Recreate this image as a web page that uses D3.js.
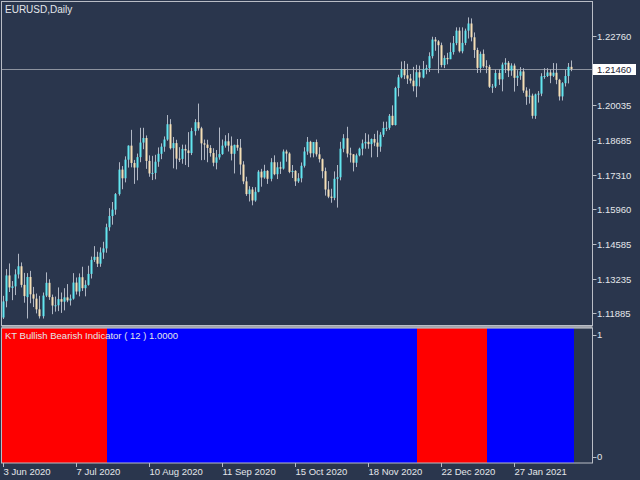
<!DOCTYPE html>
<html>
<head>
<meta charset="utf-8">
<script src="https://cdn.jsdelivr.net/npm/d3@7"></script>
<style>
  html, body { margin: 0; padding: 0; background: #2a364d; }
  svg { display: block; }
  text { font-family: "Liberation Sans", Arial, sans-serif; fill: #e4e6ea; }
</style>
</head>
<body>
<div id="chart"></div>
<script>
// EURUSD daily bars, 3 Jun 2020 .. 23 Feb 2021 (188 bars)
const opens = [
  1.1172,1.1236,1.1337,1.1288,1.1294,1.1341,1.1373,1.1300,1.1252,1.1331,
  1.1263,1.1246,1.1204,1.1177,1.1258,1.1308,1.1252,1.1219,1.1220,1.1244,
  1.1234,1.1251,1.1239,1.1246,1.1309,1.1274,1.1330,1.1287,1.1300,1.1343,
  1.1398,1.1410,1.1383,1.1427,1.1443,1.1526,1.1570,1.1595,1.1656,1.1752,
  1.1718,1.1791,1.1846,1.1778,1.1760,1.1801,1.1858,1.1876,1.1786,1.1737,
  1.1739,1.1783,1.1814,1.1842,1.1870,1.1930,1.1836,1.1856,1.1795,1.1794,
  1.1833,1.1827,1.1817,1.1903,1.1938,1.1914,1.1855,1.1850,1.1837,1.1817,
  1.1779,1.1800,1.1813,1.1846,1.1863,1.1846,1.1814,1.1849,1.1838,1.1772,
  1.1706,1.1656,1.1674,1.1631,1.1665,1.1744,1.1721,1.1747,1.1716,1.1781,
  1.1734,1.1761,1.1756,1.1823,1.1815,1.1743,1.1747,1.1706,1.1718,1.1767,
  1.1823,1.1861,1.1816,1.1860,1.1812,1.1793,1.1746,1.1674,1.1646,1.1641,
  1.1716,1.1722,1.1834,1.1875,1.1815,1.1812,1.1779,1.1808,1.1834,1.1855,
  1.1861,1.1852,1.1872,1.1858,1.1842,1.1889,1.1915,1.1916,1.1963,1.1927,
  1.2072,1.2114,1.2146,1.2122,1.2109,1.2101,1.2079,1.2134,1.2113,1.2145,
  1.2150,1.2197,1.2262,1.2255,1.2240,1.2162,1.2190,1.2185,1.2213,1.2248,
  1.2297,1.2216,1.2249,1.2297,1.2325,1.2271,1.2221,1.2151,1.2206,1.2157,
  1.2155,1.2077,1.2078,1.2131,1.2106,1.2164,1.2171,1.2140,1.2160,1.2112,
  1.2120,1.2137,1.2062,1.2038,1.2042,1.1963,1.2047,1.2050,1.2118,1.2119,
  1.2133,1.2120,1.2132,1.2104,1.2039,1.2091,1.2119,1.2155
];
const highs = [
  1.1257,1.1362,1.1384,1.1315,1.1361,1.1422,1.1388,1.1347,1.1346,1.1355,
  1.1292,1.1266,1.1257,1.1270,1.1349,1.1322,1.1262,1.1254,1.1290,1.1270,
  1.1287,1.1303,1.1262,1.1346,1.1329,1.1345,1.1371,1.1318,1.1375,1.1411,
  1.1452,1.1430,1.1447,1.1469,1.1540,1.1601,1.1625,1.1660,1.1781,1.1766,
  1.1804,1.1847,1.1908,1.1790,1.1815,1.1916,1.1916,1.1886,1.1808,1.1806,
  1.1810,1.1839,1.1855,1.1882,1.1966,1.1950,1.1880,1.1869,1.1840,1.1850,
  1.1850,1.1899,1.1916,1.1950,1.2011,1.1920,1.1870,1.1869,1.1848,1.1836,
  1.1829,1.1917,1.1870,1.1887,1.1895,1.1882,1.1850,1.1872,1.1872,1.1785,
  1.1724,1.1687,1.1684,1.1683,1.1750,1.1755,1.1771,1.1750,1.1797,1.1808,
  1.1781,1.1783,1.1831,1.1830,1.1820,1.1770,1.1750,1.1738,1.1780,1.1840,
  1.1880,1.1865,1.1860,1.1870,1.1840,1.1796,1.1760,1.1707,1.1677,1.1745,
  1.1770,1.1861,1.1891,1.1920,1.1838,1.1813,1.1815,1.1838,1.1870,1.1895,
  1.1890,1.1874,1.1892,1.1905,1.1899,1.1940,1.1940,1.1970,1.2004,1.2077,
  1.2124,1.2176,1.2178,1.2167,1.2127,1.2155,1.2163,1.2160,1.2178,1.2163,
  1.2212,1.2273,1.2272,1.2260,1.2250,1.2200,1.2210,1.2250,1.2276,1.2310,
  1.2310,1.2310,1.2305,1.2349,1.2345,1.2290,1.2230,1.2215,1.2223,1.2181,
  1.2163,1.2088,1.2144,1.2145,1.2172,1.2189,1.2178,1.2169,1.2168,1.2142,
  1.2154,1.2150,1.2075,1.2069,1.2050,1.2050,1.2060,1.2130,1.2150,1.2150,
  1.2145,1.2170,1.2169,1.2108,1.2095,1.2144,1.2170,1.2180
];
const lows = [
  1.1166,1.1212,1.1272,1.1240,1.1260,1.1325,1.1290,1.1230,1.1168,1.1228,
  1.1213,1.1188,1.1168,1.1168,1.1252,1.1241,1.1185,1.1195,1.1197,1.1190,
  1.1200,1.1232,1.1219,1.1242,1.1262,1.1255,1.1276,1.1255,1.1297,1.1325,
  1.1390,1.1370,1.1371,1.1402,1.1426,1.1512,1.1536,1.1575,1.1650,1.1675,
  1.1702,1.1760,1.1761,1.1696,1.1710,1.1781,1.1832,1.1755,1.1724,1.1711,
  1.1714,1.1763,1.1793,1.1822,1.1865,1.1831,1.1757,1.1753,1.1782,1.1775,
  1.1770,1.1762,1.1809,1.1886,1.1905,1.1789,1.1790,1.1781,1.1803,1.1765,
  1.1753,1.1791,1.1810,1.1838,1.1823,1.1788,1.1737,1.1826,1.1732,1.1695,
  1.1649,1.1627,1.1612,1.1626,1.1663,1.1685,1.1716,1.1696,1.1706,1.1730,
  1.1715,1.1735,1.1752,1.1783,1.1738,1.1719,1.1688,1.1700,1.1702,1.1760,
  1.1810,1.1800,1.1800,1.1803,1.1780,1.1718,1.1650,1.1640,1.1622,1.1632,
  1.1603,1.1710,1.1820,1.1800,1.1780,1.1745,1.1762,1.1804,1.1808,1.1834,
  1.1834,1.1800,1.1844,1.1801,1.1822,1.1880,1.1903,1.1908,1.1925,1.1925,
  1.2039,1.2110,1.2107,1.2088,1.2090,1.2059,1.2036,1.2078,1.2110,1.2126,
  1.2135,1.2188,1.2218,1.2130,1.2153,1.2150,1.2165,1.2185,1.2203,1.2240,
  1.2211,1.2208,1.2240,1.2266,1.2255,1.2190,1.2131,1.2132,1.2151,1.2130,
  1.2072,1.2053,1.2072,1.2084,1.2059,1.2131,1.2115,1.2120,1.2058,1.2080,
  1.2104,1.2053,1.2006,1.2011,1.1952,1.1951,1.2015,1.2040,1.2108,1.2115,
  1.2091,1.2115,1.2087,1.2023,1.2023,1.2078,1.2090,1.2138
];
const closes = [
  1.1235,1.1337,1.1290,1.1294,1.1341,1.1373,1.1300,1.1256,1.1331,1.1263,
  1.1246,1.1204,1.1177,1.1258,1.1308,1.1252,1.1219,1.1220,1.1244,1.1234,
  1.1251,1.1239,1.1246,1.1309,1.1274,1.1330,1.1287,1.1300,1.1343,1.1398,
  1.1410,1.1383,1.1427,1.1443,1.1526,1.1570,1.1595,1.1656,1.1752,1.1718,
  1.1791,1.1846,1.1778,1.1760,1.1801,1.1858,1.1876,1.1786,1.1737,1.1739,
  1.1783,1.1814,1.1842,1.1870,1.1930,1.1836,1.1856,1.1795,1.1794,1.1833,
  1.1827,1.1817,1.1903,1.1938,1.1914,1.1855,1.1850,1.1837,1.1817,1.1779,
  1.1800,1.1813,1.1846,1.1863,1.1846,1.1814,1.1849,1.1838,1.1772,1.1706,
  1.1656,1.1674,1.1631,1.1665,1.1744,1.1721,1.1747,1.1716,1.1781,1.1734,
  1.1761,1.1756,1.1823,1.1815,1.1743,1.1747,1.1706,1.1718,1.1767,1.1823,
  1.1861,1.1816,1.1860,1.1812,1.1793,1.1746,1.1674,1.1646,1.1641,1.1716,
  1.1722,1.1834,1.1875,1.1815,1.1812,1.1779,1.1808,1.1834,1.1855,1.1861,
  1.1852,1.1872,1.1858,1.1842,1.1889,1.1915,1.1916,1.1963,1.1927,1.2072,
  1.2114,1.2146,1.2122,1.2109,1.2101,1.2079,1.2134,1.2113,1.2145,1.2150,
  1.2197,1.2262,1.2255,1.2240,1.2162,1.2190,1.2185,1.2213,1.2248,1.2297,
  1.2216,1.2249,1.2297,1.2325,1.2271,1.2221,1.2151,1.2206,1.2157,1.2155,
  1.2077,1.2078,1.2131,1.2106,1.2164,1.2171,1.2140,1.2160,1.2112,1.2120,
  1.2137,1.2062,1.2038,1.2042,1.1963,1.2047,1.2050,1.2118,1.2119,1.2133,
  1.2120,1.2132,1.2104,1.2039,1.2091,1.2119,1.2155,1.2146
];

// indicator state runs: [state, number of bars]  (1 = bullish/blue, 0 = bearish/red)
const trendRuns = [[0, 35], [1, 102], [0, 23], [1, 28]];

// axis labels
const priceTicks = [1.22760, 1.20035, 1.18685, 1.17310, 1.15960, 1.14585, 1.13235, 1.11885];
const currentPrice = 1.21460;
const dateTickIdx = [0, 24, 48, 72, 96, 120, 144, 168];
const dateTickLabels = ["3 Jun 2020", "7 Jul 2020", "10 Aug 2020", "11 Sep 2020",
                        "15 Oct 2020", "18 Nov 2020", "22 Dec 2020", "27 Jan 2021"];
const indTicks = [1, 0];

// layout
const W = 640, H = 480;
const left = 1.5, right = 592.5;
const mainTop = 1.5, mainBottom = 325.5;
const indTop = 328, indBottom = 463;

const bg = "#2a364d";
const frame = "#b9bdc6";
const bullBody = "#62e6f0";
const bearBody = "#f5dfb6";
const wickCol = "#b0b7c4";

const n = closes.length;
const trend = [];
trendRuns.forEach(([s, len]) => { for (let k = 0; k < len; k++) trend.push(s); });

const svg = d3.select("#chart").append("svg")
    .attr("width", W)
    .attr("height", H);

svg.append("rect").attr("width", W).attr("height", H).attr("fill", bg);

// scales
const x = d3.scaleLinear().domain([0, n - 1]).range([3, 3 + 3.04 * (n - 1)]);
const y = d3.scaleLinear().domain([1.11885, 1.22760]).range([313.3, 36]);
const yInd = d3.scaleLinear().domain([0, 1]).range([indBottom, indTop]);
const step = x(1) - x(0);

// clip for the price panel
svg.append("clipPath").attr("id", "mainClip")
  .append("rect")
    .attr("x", left + 0.5).attr("y", mainTop + 0.5)
    .attr("width", right - left - 1).attr("height", mainBottom - mainTop - 1);

const main = svg.append("g").attr("clip-path", "url(#mainClip)");

// current price line (drawn under candles)
main.append("line")
    .attr("x1", left).attr("x2", right)
    .attr("y1", Math.round(y(currentPrice)) + 0.5)
    .attr("y2", Math.round(y(currentPrice)) + 0.5)
    .attr("stroke", "#8d939f")
    .attr("stroke-width", 1);

const bars = d3.range(n);

// wicks
main.selectAll(".wick").data(bars).enter().append("line")
    .attr("class", "wick")
    .attr("x1", i => Math.round(x(i)) + 0.5)
    .attr("x2", i => Math.round(x(i)) + 0.5)
    .attr("y1", i => y(highs[i]))
    .attr("y2", i => y(lows[i]))
    .attr("stroke", wickCol)
    .attr("stroke-width", 1);

// bodies
main.selectAll(".body").data(bars).enter().append("rect")
    .attr("class", "body")
    .attr("x", i => Math.round(x(i)) - 0.5)
    .attr("width", 2)
    .attr("y", i => y(Math.max(opens[i], closes[i])))
    .attr("height", i => Math.max(1, Math.abs(y(opens[i]) - y(closes[i]))))
    .attr("fill", i => closes[i] >= opens[i] ? bullBody : bearBody);

// chart title
svg.append("text")
    .attr("x", 5).attr("y", 13)
    .attr("font-size", "10px")
    .text("EURUSD,Daily");

// indicator histogram
svg.append("g")
    .attr("shape-rendering", "crispEdges")
  .selectAll(".hist").data(bars).enter().append("rect")
    .attr("class", "hist")
    .attr("x", i => Math.floor(x(i) - step / 2))
    .attr("width", Math.ceil(step) + 1)
    .attr("y", yInd(1))
    .attr("height", yInd(0) - yInd(1))
    .attr("fill", i => trend[i] === 1 ? "#0000ff" : "#ff0000");

svg.append("text")
    .attr("x", 5).attr("y", 338.5)
    .attr("font-size", "9.5px")
    .text("KT Bullish Bearish Indicator ( 12 ) 1.0000");

// frames
svg.append("rect")
    .attr("x", left).attr("y", mainTop)
    .attr("width", right - left).attr("height", mainBottom - mainTop)
    .attr("fill", "none").attr("stroke", frame);

svg.append("rect")
    .attr("x", left).attr("y", 326).attr("width", right - left).attr("height", 2.2)
    .attr("fill", "#9ea3ab");

svg.append("rect")
    .attr("x", left).attr("y", indTop)
    .attr("width", right - left).attr("height", indBottom - indTop)
    .attr("fill", "none").attr("stroke", frame);

// price axis
const pAxis = svg.append("g");
priceTicks.forEach(v => {
  const yy = Math.round(y(v)) + 0.5;
  pAxis.append("line")
      .attr("x1", right).attr("x2", right + 4)
      .attr("y1", yy).attr("y2", yy)
      .attr("stroke", frame);
  pAxis.append("text")
      .attr("x", 597).attr("y", yy)
      .attr("dy", "0.35em")
      .attr("font-size", "9.5px")
      .text(v.toFixed(5));
});

// current price tag
const cy = Math.round(y(currentPrice)) + 0.5;
svg.append("rect")
    .attr("x", 593).attr("y", cy - 5.5)
    .attr("width", 43).attr("height", 11)
    .attr("fill", "#ffffff");
svg.append("text")
    .attr("x", 597).attr("y", cy)
    .attr("dy", "0.35em")
    .attr("font-size", "9.5px")
    .style("fill", "#1b2233")
    .text(currentPrice.toFixed(5));

// indicator axis
indTicks.forEach(v => {
  const yy = v === 1 ? yInd(v) + 7 : yInd(v) - 6;
  svg.append("line")
      .attr("x1", right).attr("x2", right + 4)
      .attr("y1", Math.round(yy) + 0.5).attr("y2", Math.round(yy) + 0.5)
      .attr("stroke", frame);
  svg.append("text")
      .attr("x", 597).attr("y", yy)
      .attr("dy", "0.35em")
      .attr("font-size", "9.5px")
      .text(v);
});

// date axis
dateTickIdx.forEach((idx, k) => {
  const xx = Math.round(x(idx)) + 0.5;
  svg.append("line")
      .attr("x1", xx).attr("x2", xx)
      .attr("y1", indBottom).attr("y2", indBottom + 4)
      .attr("stroke", frame);
  svg.append("text")
      .attr("x", xx).attr("y", 475)
      .attr("font-size", "9.5px")
      .text(dateTickLabels[k]);
});
</script>
</body>
</html>
